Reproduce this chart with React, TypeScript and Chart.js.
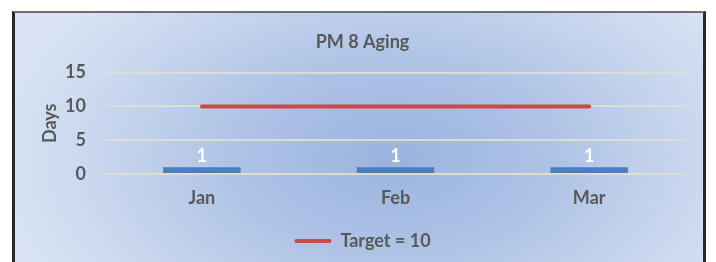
import React, { useEffect, useRef } from "react";
import { Chart, registerables } from "chart.js";

Chart.register(...registerables);

const categories = ["Jan", "Feb", "Mar"];
const agingDays = [1, 1, 1];
const targetValues = [10, 10, 10];
const yTickValues = [0, 5, 10, 15];
const chartTitle = "PM 8 Aging";
const yAxisTitle = "Days";
const targetLabel = "Target = 10";

const FONT = "Lato, 'Open Sans', sans-serif";
const TEXT = "#595959";
const BAR_BLUE = "#4b7dc0";
const TARGET_RED = "#cc4a46";
const FS = 18;

const dataLabels = {
  id: "dataLabels",
  afterDatasetsDraw(chart: any) {
    const meta = chart.getDatasetMeta(0);
    const ctx = chart.ctx;
    ctx.save();
    ctx.font = `bold ${FS}px ${FONT}`;
    ctx.fillStyle = "#ffffff";
    ctx.textAlign = "center";
    ctx.textBaseline = "alphabetic";
    meta.data.forEach((el: any, i: number) => {
      ctx.fillText(String(agingDays[i]), el.x, el.y - 5);
    });
    ctx.restore();
  },
};

export default function App() {
  const ref = useRef<HTMLCanvasElement | null>(null);

  useEffect(() => {
    if (!ref.current) return;
    const chart = new Chart(ref.current, {
      type: "bar",
      data: {
        labels: categories,
        datasets: [
          {
            type: "bar",
            label: "Aging",
            data: agingDays,
            backgroundColor: BAR_BLUE,
            barPercentage: 0.4,
            categoryPercentage: 1,
            order: 2,
          },
          {
            type: "line",
            label: targetLabel,
            data: targetValues,
            borderColor: TARGET_RED,
            backgroundColor: TARGET_RED,
            borderWidth: 4,
            pointRadius: 0,
            borderCapStyle: "round",
            order: 1,
          } as any,
        ],
      },
      options: {
        responsive: false,
        animation: false,
        layout: { padding: { top: 31, left: 39, right: 30, bottom: 2 } },
        plugins: {
          tooltip: { enabled: false },
          title: {
            display: true,
            text: chartTitle,
            color: TEXT,
            font: { family: FONT, size: FS, weight: "bold" },
            padding: { top: 0, bottom: 20 },
          },
          legend: {
            position: "bottom",
            labels: {
              boxWidth: 37,
              boxHeight: 4,
              padding: 10,
              color: TEXT,
              font: { family: FONT, size: FS, weight: "bold" },
              generateLabels: () => [
                {
                  text: targetLabel,
                  fillStyle: TARGET_RED,
                  strokeStyle: TARGET_RED,
                  lineWidth: 0,
                  hidden: false,
                  datasetIndex: 1,
                  borderRadius: 2,
                  fontColor: TEXT,
                } as any,
              ],
            },
          },
        },
        scales: {
          x: {
            grid: { display: false, drawTicks: false },
            border: { display: false },
            ticks: {
              padding: 13,
              color: TEXT,
              font: { family: FONT, size: FS, weight: "bold" },
            },
            afterFit: (s: any) => {
              s.height = 48;
            },
          },
          y: {
            min: 0,
            max: 15,
            afterBuildTicks: (s: any) => {
              s.ticks = yTickValues.map((v) => ({ value: v }));
            },
            grid: { color: "rgba(222,222,208,0.95)", lineWidth: 2, drawTicks: false },
            border: { display: false },
            ticks: {
              padding: 19,
              color: TEXT,
              font: { family: FONT, size: FS, weight: "bold" },
            },
            title: {
              display: true,
              text: yAxisTitle,
              color: TEXT,
              padding: 0,
              font: { family: FONT, size: FS, weight: "bold" },
            },
            afterFit: (s: any) => {
              s.width = 66;
            },
          },
        },
      },
      plugins: [dataLabels],
    });
    return () => chart.destroy();
  }, []);

  return (
    <div
      style={{
        position: "fixed",
        left: 0,
        top: 0,
        width: 716,
        height: 262,
        background: "#ffffff",
        overflow: "hidden",
      }}
    >
      <div
        style={{
          position: "absolute",
          left: 12,
          top: 11,
          width: 688,
          height: 300,
          borderLeft: "3px solid #2a2a2a",
          borderRight: "3px solid #2a2a2a",
          borderTop: "2px solid #6e6e6e",
          background:
            "radial-gradient(ellipse 58% 80% at 55% 48%, #9bb3dd 0%, #aec3e6 40%, #c9d7ee 75%, #d9e3f3 100%)",
        }}
      />
      <canvas
        ref={ref}
        width={716}
        height={262}
        style={{ position: "absolute", left: 0, top: 0, width: 716, height: 262 }}
      />
    </div>
  );
}
